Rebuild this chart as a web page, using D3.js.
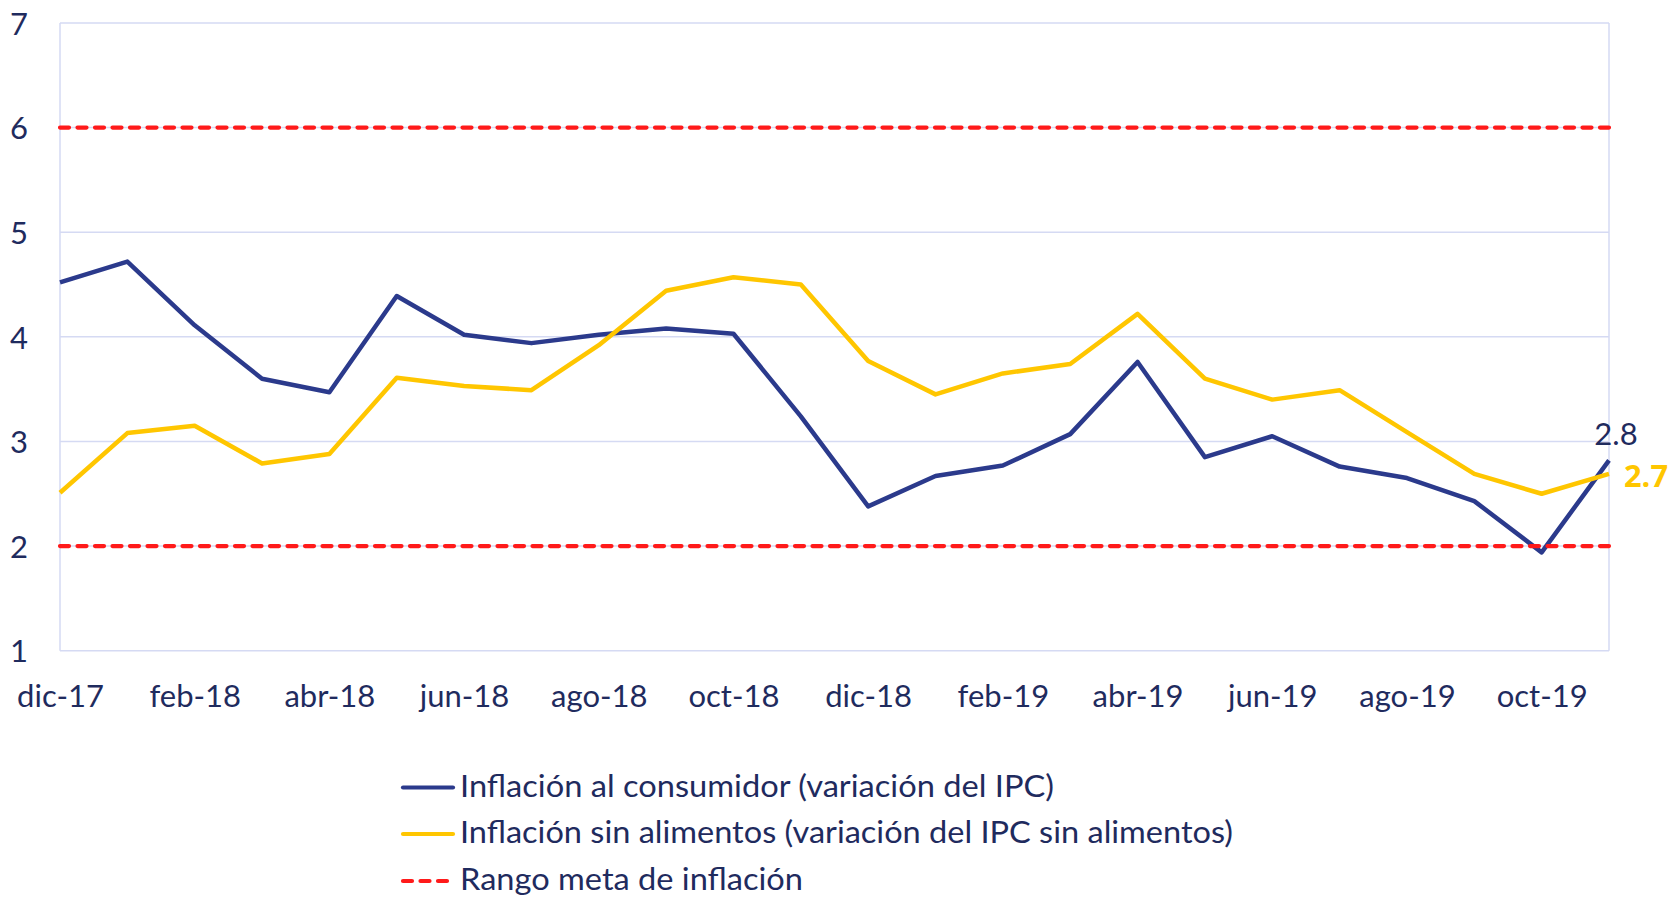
<!DOCTYPE html>
<html>
<head>
<meta charset="utf-8">
<script src="https://cdn.jsdelivr.net/npm/d3@7"></script>
<style>
  html, body { margin: 0; padding: 0; background: #fff; }
  svg { display: block; }
  text { font-family: Lato, "Open Sans", sans-serif; fill: #1F2B5E; }
</style>
</head>
<body>
<svg id="chart" width="1671" height="898"></svg>
<script>
const months = ["dic-17","ene-18","feb-18","mar-18","abr-18","may-18","jun-18","jul-18","ago-18","sep-18","oct-18","nov-18",
                "dic-18","ene-19","feb-19","mar-19","abr-19","may-19","jun-19","jul-19","ago-19","sep-19","oct-19","nov-19"];
const ipc = [4.52, 4.72, 4.11, 3.60, 3.47, 4.39, 4.02, 3.94, 4.02, 4.08, 4.03, 3.24,
             2.38, 2.67, 2.77, 3.07, 3.76, 2.85, 3.05, 2.76, 2.65, 2.43, 1.94, 2.82];
const sinAlimentos = [2.51, 3.08, 3.15, 2.79, 2.88, 3.61, 3.53, 3.49, 3.92, 4.44, 4.57, 4.50,
                      3.77, 3.45, 3.65, 3.74, 4.22, 3.60, 3.40, 3.49, 3.09, 2.69, 2.50, 2.69];
const metaRango = [2, 6];
const yTicks = [1, 2, 3, 4, 5, 6, 7];
const xTickLabels = ["dic-17","feb-18","abr-18","jun-18","ago-18","oct-18","dic-18","feb-19","abr-19","jun-19","ago-19","oct-19"];
const lastLabels = ["2.8", "2.7"];
const legendLabels = ["Inflación al consumidor (variación del IPC)",
                      "Inflación sin alimentos (variación del IPC sin alimentos)",
                      "Rango meta de inflación"];

const BLUE = "#2B3A8C", YELLOW = "#FFC600", RED = "#FF1A1A", GRID = "#D5DAF3", TXT = "#1F2B5E";

const svg = d3.select("#chart");
const L = 60, R = 1609, T = 23, B = 650.7;
const x = d3.scalePoint().domain(months).range([L, R]);
const y = d3.scaleLinear().domain([1, 7]).range([B, T]);

// gridlines
svg.append("g").selectAll("line").data(yTicks).join("line")
  .attr("x1", L).attr("x2", R).attr("y1", d => y(d)).attr("y2", d => y(d))
  .attr("stroke", GRID).attr("stroke-width", 1.5);
svg.append("line").attr("x1", L).attr("x2", L).attr("y1", T).attr("y2", B).attr("stroke", GRID).attr("stroke-width", 1.5);
svg.append("line").attr("x1", R).attr("x2", R).attr("y1", T).attr("y2", B).attr("stroke", GRID).attr("stroke-width", 1.5);

// y axis labels
const yAxis = d3.axisLeft(y).tickValues(yTicks).tickSize(0).tickPadding(0).tickFormat(d3.format("d"));
const gy = svg.append("g").attr("transform", `translate(28,0)`).call(yAxis);
gy.select(".domain").remove();
gy.selectAll("text").attr("font-size", 31).attr("fill", TXT)
  .style("font-family", "Lato, sans-serif").attr("dy", "0.36em");

// x axis labels
const xAxis = d3.axisBottom(x).tickValues(xTickLabels).tickSize(0).tickPadding(0);
const gx = svg.append("g").attr("transform", `translate(0,${B})`).call(xAxis);
gx.select(".domain").remove();
gx.selectAll("text").attr("font-size", 31).attr("fill", TXT)
  .style("font-family", "Lato, sans-serif").attr("y", 56).attr("dy", 0);

const line = d3.line().x((d, i) => x(months[i])).y(d => y(d));

svg.append("path").datum(ipc).attr("d", line).attr("fill", "none")
  .attr("stroke", BLUE).attr("stroke-width", 4.5).attr("stroke-linejoin", "round");
svg.append("path").datum(sinAlimentos).attr("d", line).attr("fill", "none")
  .attr("stroke", YELLOW).attr("stroke-width", 4.5).attr("stroke-linejoin", "round");

svg.append("g").selectAll("line").data(metaRango).join("line")
  .attr("x1", L).attr("x2", R).attr("y1", d => y(d)).attr("y2", d => y(d))
  .attr("stroke", RED).attr("stroke-width", 4.2).attr("stroke-dasharray", "9 8.5")
  .attr("stroke-linecap", "round");

// end labels
const n = months.length - 1;
svg.append("text").attr("x", x(months[n]) + 7).attr("y", y(ipc[n]) - 15)
  .attr("text-anchor", "middle").attr("font-size", 31).style("fill", TXT).text(lastLabels[0]);
svg.append("text").attr("x", x(months[n]) + 15).attr("y", y(sinAlimentos[n]) + 13)
  .attr("text-anchor", "start").attr("font-size", 30)
  .style("font-weight", "700").style("font-family", "'Open Sans', 'Noto Sans', sans-serif")
  .attr("textLength", 44).attr("lengthAdjust", "spacingAndGlyphs")
  .style("fill", YELLOW).text(lastLabels[1]);

// legend
const legendY = [786, 832.5, 879.5];
const legendW = [594, 773, 343];
const legendColors = [BLUE, YELLOW, RED];
const lg = svg.append("g");
legendLabels.forEach((lab, i) => {
  lg.append("line").attr("x1", 403).attr("x2", 453).attr("y1", legendY[i] + 1.5).attr("y2", legendY[i] + 1.5)
    .attr("stroke", legendColors[i]).attr("stroke-width", 4.2)
    .attr("stroke-linecap", "round")
    .attr("stroke-dasharray", i === 2 ? "9 8.5" : null);
  lg.append("text").attr("x", 460).attr("y", legendY[i]).attr("dy", "0.36em")
    .attr("font-size", 30).attr("textLength", legendW[i]).attr("lengthAdjust", "spacingAndGlyphs")
    .text(lab);
});
</script>
</body>
</html>
